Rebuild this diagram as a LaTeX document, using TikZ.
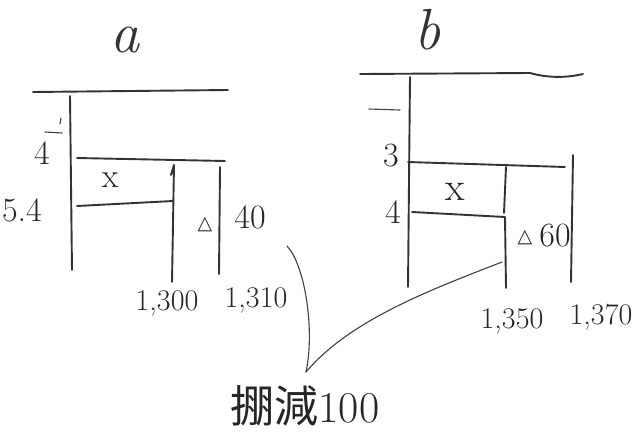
\documentclass[tikz,border=0pt]{standalone}
\usepackage{fontspec}
\newfontfamily\cjk{Noto Sans CJK JP}
\newfontfamily\symf{DejaVu Sans}
\begin{document}
\begin{tikzpicture}[x=1pt,y=-1pt]
\tikzset{
  pen/.style={draw=black!80,line width=1.9pt,line cap=round,line join=round},
  thinpen/.style={draw=black!75,line width=1.1pt,line cap=round},
  lbl/.style={font=\fontsize{34}{34}\selectfont,inner sep=0pt,text=black!85},
  num/.style={font=\fontsize{30}{30}\selectfont,inner sep=0pt,text=black!85},
  head/.style={font=\fontsize{58}{58}\selectfont\itshape,inner sep=0pt,text=black!80},
  tri/.style={font=\symf\fontsize{19}{19}\selectfont,inner sep=0pt,text=black!85},
  gentext/.style={font=\fontsize{44}{44}\selectfont,inner sep=0pt,text=black!85}
}
\useasboundingbox[fill=white] (0,0) rectangle (640,437);

% ---------- diagram a ----------
\node[head] (ha) at (125,40) {a};
\draw[pen] (33,92) -- (228,90);
\draw[pen] (70,96) -- (72,270);
\draw[thinpen] (45,132) -- (62,133);
\draw[thinpen] (61,118) -- (60,124);
\draw[pen] (77,158) -- (225,161);
\draw[pen] (171,175) -- (174,165) -- (172,282);
\draw[pen] (220,167) -- (219,274);
\draw[pen] (77,206) -- (173,201);
\node[lbl] (a4) at (42,153) {4};
\node[lbl] (a54) at (22,210) {5.4};
\node[lbl] (ax) at (110,180) {x};
\node[tri] (atri) at (205,225) {△};
\node[lbl] (a40) at (250,217) {40};
\node[num] (a1300) at (167,303) {1,300};
\node[num] (a1310) at (256,300) {1,310};

% ---------- diagram b ----------
\node[head] (hb) at (428,30) {b};
\draw[pen] (360,74) -- (530,73) .. controls (548,78) and (566,78) .. (583,74);
\draw[pen] (410,77) -- (408,287);
\draw[thinpen] (369,109) -- (400,110);
\draw[pen] (408,162) -- (565,167);
\draw[pen] (506,167) -- (504,213);
\draw[pen] (412,212) -- (505,217) -- (506,288);
\draw[pen] (573,155) -- (571,282);
\node[lbl] (b3) at (391,156) {3};
\node[lbl] (b4) at (393,212) {4};
\node[lbl,font=\fontsize{40}{40}\selectfont] (bx) at (455,192) {x};
\node[tri] (btri) at (525,238) {△};
\node[lbl] (b60) at (555,236) {60};
\node[num] (b1350) at (512,321) {1,350};
\node[num] (b1370) at (601,317) {1,370};

% ---------- connectors ----------
\node[gentext] (gen) at (305,406) {{\cjk 掤減}100};
\coordinate (c1) at (287,246);
\coordinate (c2) at (502,262);
\coordinate (tip) at (306,372);
\draw[thinpen] (c1) .. controls (305,265) and (315,330) .. (tip);
\draw[thinpen] (c2) .. controls (430,290) and (350,320) .. (tip);
\end{tikzpicture}
\end{document}
